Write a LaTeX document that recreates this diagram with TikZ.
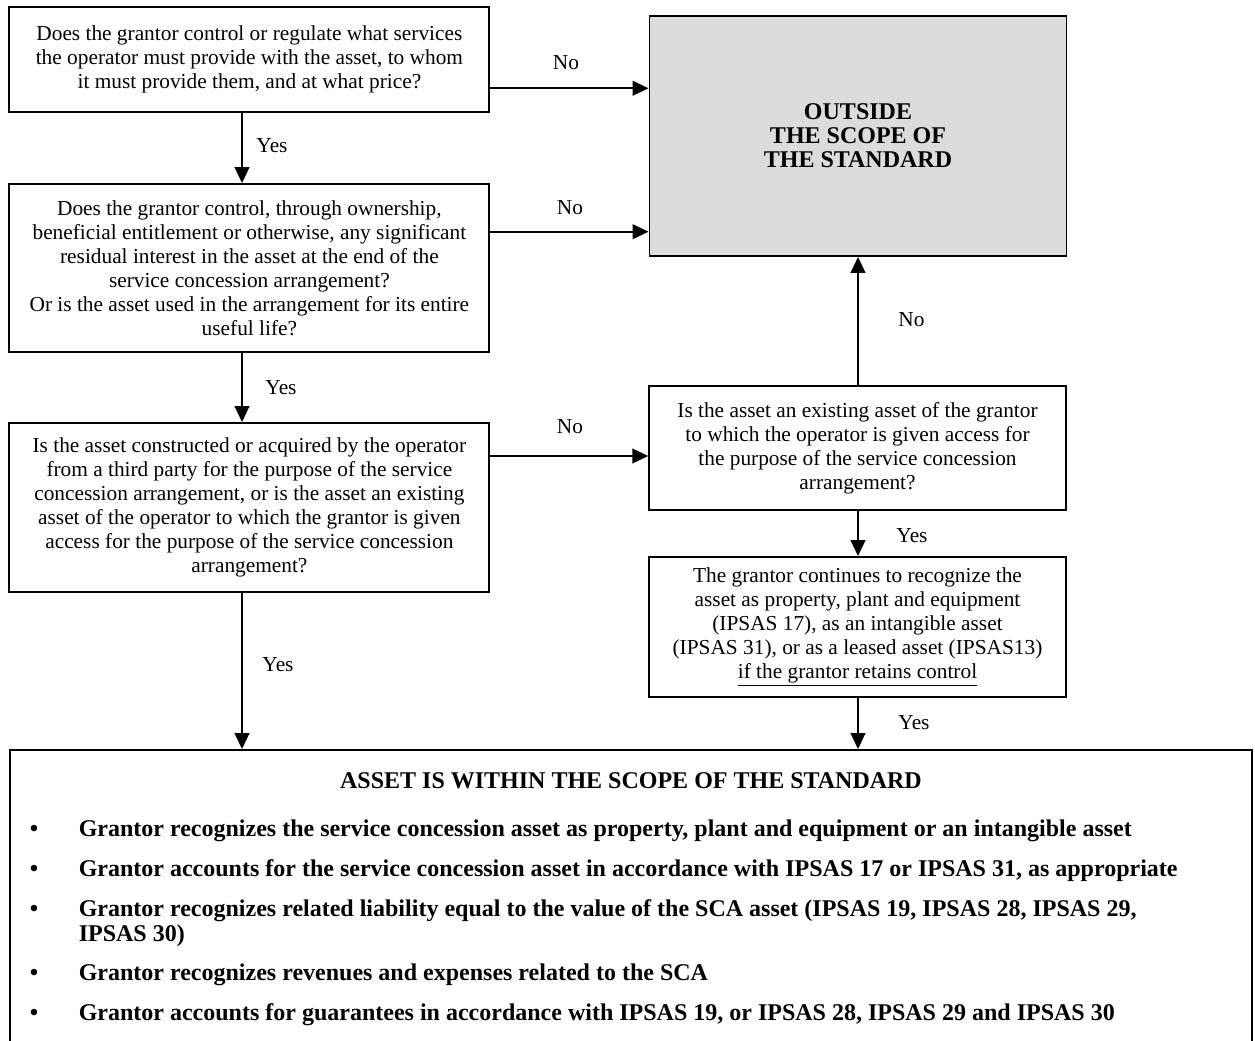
\documentclass[tikz,border=0pt]{standalone}
\usepackage{fontspec}
\setmainfont{Liberation Serif}
\usetikzlibrary{arrows.meta}
\definecolor{outgray}{HTML}{DCDCDC}
\begin{document}
\begin{tikzpicture}[x=0.75pt,y=-0.75pt,
  txt/.style={font=\fontsize{16}{18}\selectfont},
  box/.style={txt, draw, line width=1.4pt, align=center, inner sep=0pt},
  arr/.style={line width=1.5pt, -{Triangle[length=12pt,width=11pt]}},
  lbl/.style={txt, inner sep=0pt},
  btxt/.style={font=\fontsize{18}{19}\selectfont\bfseries, inner sep=0pt}]
\useasboundingbox (0,0) rectangle (1255,1041);
\fill[white] (0,0) rectangle (1255,1041);

% boxes
\node[box, minimum width=360pt, minimum height=78.5pt] (q1) at (249.4,59.7)
  {Does the grantor control or regulate what services\\the operator must provide with the asset, to whom\\it must provide them, and at what price?};
\node[box, minimum width=360pt, minimum height=126pt] (q2) at (249.4,268)
  {Does the grantor control, through ownership,\\beneficial entitlement or otherwise, any significant\\residual interest in the asset at the end of the\\service concession arrangement?\\Or is the asset used in the arrangement for its entire\\useful life?};
\node[box, minimum width=360pt, minimum height=126.75pt] (q3) at (249.4,507.5)
  {Is the asset constructed or acquired by the operator\\from a third party for the purpose of the service\\concession arrangement, or is the asset an existing\\asset of the operator to which the grantor is given\\access for the purpose of the service concession\\arrangement?};
\node[box, fill=outgray, minimum width=312.75pt, minimum height=180pt, font=\fontsize{18}{18}\selectfont\bfseries] (out) at (858,136)
  {OUTSIDE\\THE SCOPE OF\\THE STANDARD};
\node[box, minimum width=312.4pt, minimum height=93pt] (q4) at (857.5,448)
  {Is the asset an existing asset of the grantor\\to which the operator is given access for\\the purpose of the service concession\\arrangement?};
\node[box, minimum width=312.4pt, minimum height=105pt] (q5) at (857.5,627)
  {The grantor continues to recognize the\\asset as property, plant and equipment\\(IPSAS 17), as an intangible asset\\(IPSAS 31), or as a leased asset (IPSAS13)\\\underline{if the grantor retains control}};
\node[draw, line width=1.4pt, minimum width=931.5pt, minimum height=232.5pt, inner sep=0pt] (bot) at (631,905) {};

% bottom box content
\node[btxt, anchor=base] (title) at (631,788) {ASSET IS WITHIN THE SCOPE OF THE STANDARD};
\node[btxt, anchor=base] (d1) at (34,836) {\textbullet};
\node[btxt, anchor=base west] (t1) at (78.5,836) {Grantor recognizes the service concession asset as property, plant and equipment or an intangible asset};
\node[btxt, anchor=base] (d2) at (34,876) {\textbullet};
\node[btxt, anchor=base west] (t2) at (78.5,876) {Grantor accounts for the service concession asset in accordance with IPSAS 17 or IPSAS 31, as appropriate};
\node[btxt, anchor=base] (d3) at (34,916) {\textbullet};
\node[btxt, anchor=base west] (t3) at (78.5,916) {Grantor recognizes related liability equal to the value of the SCA asset (IPSAS 19, IPSAS 28, IPSAS 29,};
\node[btxt, anchor=base west] (t3b) at (78.5,941) {IPSAS 30)};
\node[btxt, anchor=base] (d4) at (34,980) {\textbullet};
\node[btxt, anchor=base west] (t4) at (78.5,980) {Grantor recognizes revenues and expenses related to the SCA};
\node[btxt, anchor=base] (d5) at (34,1020) {\textbullet};
\node[btxt, anchor=base west] (t5) at (78.5,1020) {Grantor accounts for guarantees in accordance with IPSAS 19, or IPSAS 28, IPSAS 29 and IPSAS 30};

% guide coordinates
\coordinate (cl) at (242,0);
\coordinate (cr) at (858,0);
\coordinate (r1) at (0,88.3);
\coordinate (r2) at (0,231.7);
\coordinate (r3) at (0,456);

% connectors
\draw[arr] (q1.south -| cl) -- (q2.north -| cl);
\draw[arr] (q2.south -| cl) -- (q3.north -| cl);
\draw[arr] (q3.south -| cl) -- (bot.north -| cl);
\draw[arr] (q1.east |- r1) -- (out.west |- r1);
\draw[arr] (q2.east |- r2) -- (out.west |- r2);
\draw[arr] (q3.east |- r3) -- (q4.west |- r3);
\draw[arr] (q4.north -| cr) -- (out.south -| cr);
\draw[arr] (q4.south -| cr) -- (q5.north -| cr);
\draw[arr] (q5.south -| cr) -- (bot.north -| cr);

% labels
\node[lbl] (l1) at (566,63) {No};
\node[lbl] (l2) at (570,208) {No};
\node[lbl] (l3) at (570,427) {No};
\node[lbl] (l4) at (911.5,320) {No};
\node[lbl] (l5) at (272,146) {Yes};
\node[lbl] (l6) at (281,388) {Yes};
\node[lbl] (l7) at (278,665) {Yes};
\node[lbl] (l8) at (912,536) {Yes};
\node[lbl] (l9) at (914,723) {Yes};
\end{tikzpicture}
\end{document}
